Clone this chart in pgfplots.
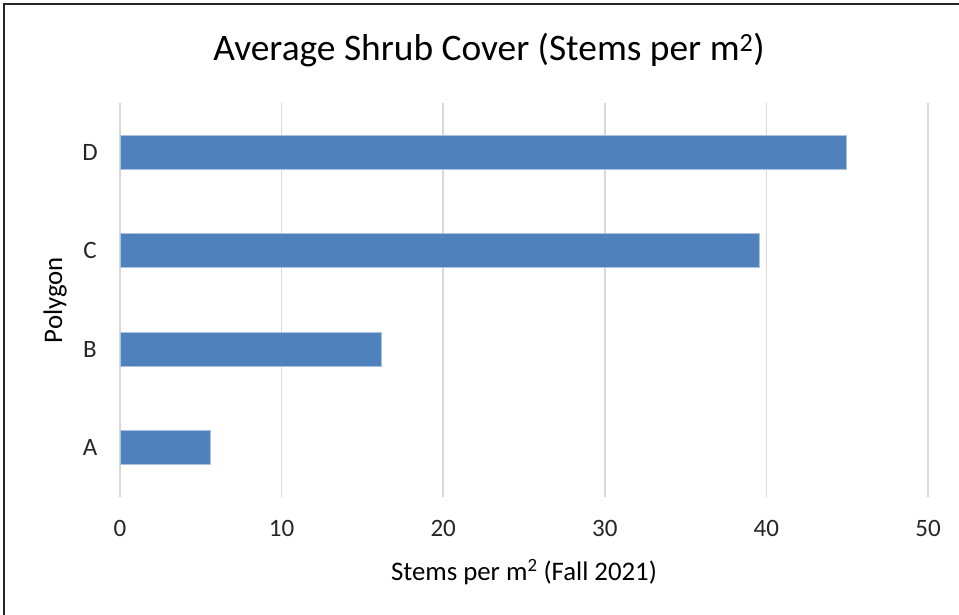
\documentclass[border=0pt]{standalone}
\usepackage{fontspec}
\setmainfont{Carlito}
\usepackage{pgfplots}
\pgfplotsset{compat=1.18}
\definecolor{barblue}{HTML}{4F81BD}
\definecolor{baredge}{HTML}{A9C2E0}
\definecolor{gridgray}{HTML}{D9D9D9}
\begin{document}
\begin{tikzpicture}[x=1pt,y=1pt]
\path[use as bounding box] (0,0) rectangle (959,614);
\draw[line width=1.5pt, black!85] (4,-2) -- (4,610) -- (962,610);
\begin{axis}[
  at={(120pt,117pt)}, anchor=south west,
  scale only axis, width=808pt, height=394pt,
  xbar, bar width=34pt,
  xmin=0, xmax=50, ymin=-0.5, ymax=3.5,
  xtick={0,10,...,50}, ytick={0,1,2,3}, yticklabels={A,B,C,D},
  xmajorgrids, grid style={gridgray, line width=1.7pt},
  axis line style={draw=none},
  major tick length=0pt,
  tick label style={font=\fontsize{25}{29}\selectfont, text=black!85},
  /pgf/number format/assume math mode=true,
  xticklabel style={anchor=center, yshift=-31pt},
  yticklabel style={anchor=center, xshift=-30pt},
  title={Average Shrub Cover (Stems per m\textsuperscript{2})},
  title style={at={(axis description cs:0.4567,1.12)}, anchor=center, font=\fontsize{37.4}{42}\selectfont},
  xlabel={Stems per m\textsuperscript{2} (Fall 2021)},
  xlabel style={at={(axis description cs:0.5,-0.19)}, anchor=center, font=\fontsize{26.8}{31}\selectfont},
  ylabel={Polygon},
  ylabel style={at={(axis description cs:-0.0804,0.5)}, anchor=center, font=\fontsize{26.8}{31}\selectfont},
]
\addplot[fill=barblue, draw=baredge, line width=0.75pt] coordinates {(5.57,0) (16.17,1) (39.56,2) (44.97,3)};
\end{axis}
\end{tikzpicture}
\end{document}
